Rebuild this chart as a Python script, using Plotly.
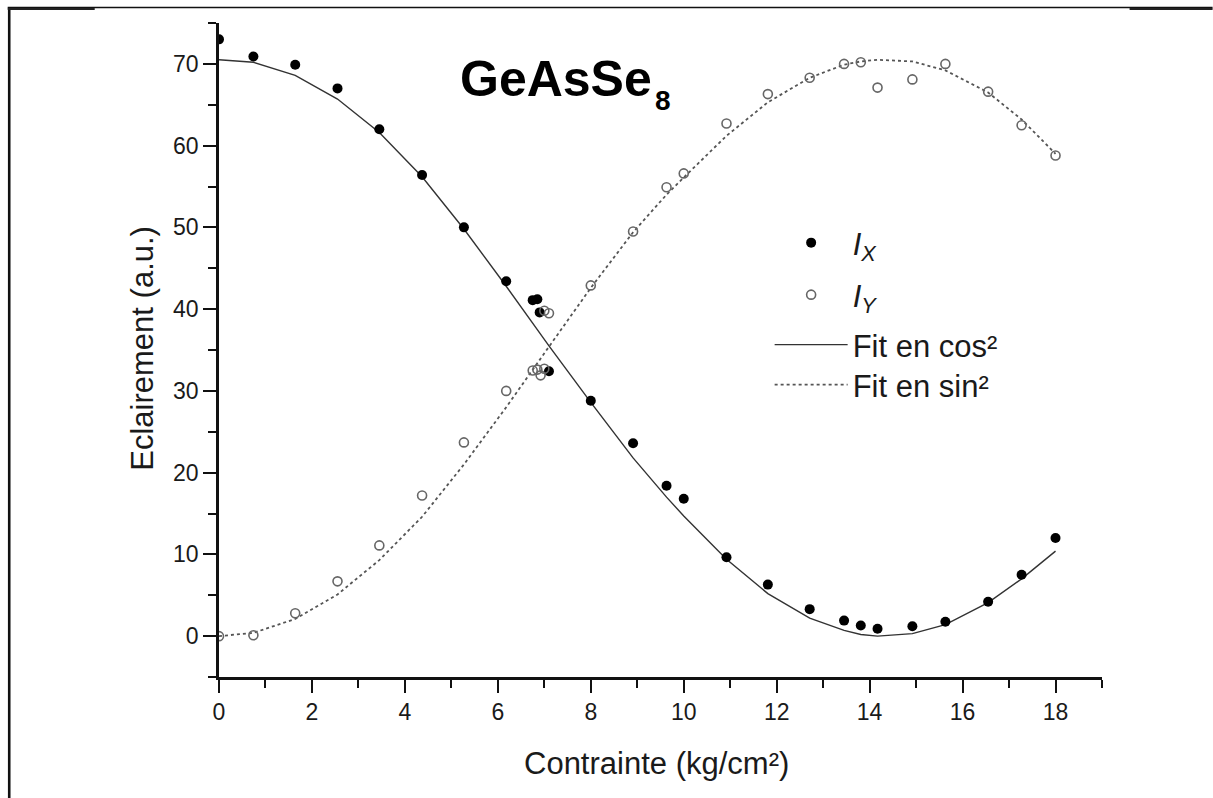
import plotly.graph_objects as go

# ---------------- data ----------------
ix_x = [0, 0.74, 1.64, 2.55, 3.45, 4.37, 5.27, 6.18, 6.75, 6.85, 6.9, 7.1, 8.0, 8.91, 9.63, 10.0,
        10.92, 11.81, 12.71, 13.45, 13.81, 14.17, 14.92, 15.63, 16.55, 17.27, 18.0]
ix_y = [73.0, 70.9, 69.9, 67.0, 62.0, 56.4, 50.0, 43.4, 41.1, 41.2, 39.6, 32.4, 28.8, 23.6, 18.4, 16.8,
        9.65, 6.3, 3.3, 1.9, 1.3, 0.9, 1.2, 1.75, 4.2, 7.5, 12.0]

iy_x = [0, 0.74, 1.64, 2.55, 3.45, 4.37, 5.27, 6.18, 6.75, 6.85, 6.92, 7.0, 7.0, 7.1, 8.0, 8.91, 9.63,
        10.0, 10.92, 11.81, 12.71, 13.45, 13.81, 14.17, 14.92, 15.63, 16.55, 17.27, 18.0]
iy_y = [0.0, 0.1, 2.8, 6.7, 11.1, 17.2, 23.7, 30.0, 32.5, 32.6, 31.9, 32.7, 39.8, 39.5, 42.9, 49.5, 54.9,
        56.6, 62.7, 66.3, 68.3, 70.0, 70.2, 67.1, 68.1, 70.0, 66.6, 62.5, 58.8]

fit_x = [0, 0.74, 1.64, 2.55, 3.45, 4.37, 5.27, 6.18, 7.1, 8.0, 8.91, 9.63, 10.0, 10.92, 11.81, 12.71,
         13.45, 13.81, 14.17, 14.92, 15.63, 16.55, 17.27, 18.0]
fit_cos = [70.5, 70.2, 68.6, 65.7, 61.6, 56.2, 49.8, 42.8, 35.5, 28.6, 21.8, 17.0, 14.7, 9.4, 5.2, 2.2,
           0.7, 0.2, 0.0, 0.3, 1.4, 4.1, 7.0, 10.4]
fit_sin = [0.0, 0.4, 2.1, 5.1, 9.3, 14.6, 21.0, 28.0, 35.4, 42.6, 49.4, 54.0, 56.1, 61.2, 65.3, 68.3,
           69.9, 70.3, 70.5, 70.3, 69.2, 66.5, 63.2, 59.0]

x_ticks = [0, 2, 4, 6, 8, 10, 12, 14, 16, 18]
y_ticks = [0, 10, 20, 30, 40, 50, 60, 70]

title_main = "GeAsSe"
title_sub = "8"
x_title = "Contrainte (kg/cm²)"
y_title = "Eclairement (a.u.)"
names = ["<i>I<sub>X</sub></i>", "<i>I<sub>Y</sub></i>", "Fit en cos²", "Fit en sin²"]

# ---------------- layout helpers (pixel -> paper) ----------------
W, H = 1213, 798
L, R, T, B = 219.3, 1102.4, 23.0, 677.0


def px(x):
    return (x - L) / (R - L)


def py(y):
    return (B - y) / (B - T)


FONT = "Liberation Sans, Arial, sans-serif"

fig = go.Figure()
fig.add_trace(go.Scatter(x=fit_x, y=fit_cos, mode="lines", name=names[2], legend="legend3",
                         line=dict(color="#333333", width=1.4)))
fig.add_trace(go.Scatter(x=fit_x, y=fit_sin, mode="lines", name=names[3], legend="legend4",
                         line=dict(color="#555555", width=1.8, dash="dot")))
fig.add_trace(go.Scatter(x=ix_x, y=ix_y, mode="markers", name=names[0], legend="legend",
                         marker=dict(symbol="circle", size=10, color="#000000")))
fig.add_trace(go.Scatter(x=iy_x, y=iy_y, mode="markers", name=names[1], legend="legend2",
                         marker=dict(symbol="circle-open", size=9, color="#666666",
                                     line=dict(width=1.6, color="#666666"))))

axis_common = dict(showgrid=False, zeroline=False, showline=True, linecolor="#111111", linewidth=2.5,
                   ticks="outside", tickwidth=2.2, tickcolor="#111111", ticklen=13,
                   tickfont=dict(family=FONT, size=23, color="#1a1a1a"))

fig.update_xaxes(range=[0, 19], tickmode="array", tickvals=x_ticks,
                 minor=dict(ticks="outside", dtick=1, tick0=0, ticklen=8, tickwidth=2.2, tickcolor="#111111"),
                 **axis_common)
fig.update_yaxes(range=[-5, 75], tickmode="array", tickvals=y_ticks,
                 minor=dict(ticks="outside", dtick=5, tick0=0, ticklen=8, tickwidth=2.2, tickcolor="#111111"),
                 **axis_common)

annotations = [
    dict(text="<b>" + title_main + "</b>", x=px(458), y=py(79), xref="paper", yref="paper",
         xanchor="left", yanchor="middle", showarrow=False, font=dict(family=FONT, size=50, color="#000")),
    dict(text="<b>" + title_sub + "</b>", x=px(653), y=py(100), xref="paper", yref="paper",
         xanchor="left", yanchor="middle", showarrow=False, font=dict(family=FONT, size=28, color="#000")),
    dict(text=x_title, x=px(657), y=py(763), xref="paper", yref="paper",
         xanchor="center", yanchor="middle", showarrow=False, font=dict(family=FONT, size=31, color="#1a1a1a")),
    dict(text=y_title, x=px(142), y=py(348), xref="paper", yref="paper", textangle=-90,
         xanchor="center", yanchor="middle", showarrow=False, font=dict(family=FONT, size=31, color="#1a1a1a")),
]

shapes = [
    # scanned page frame
    dict(type="line", xref="paper", yref="paper", x0=px(8), x1=px(1213), y0=py(7.5), y1=py(7.5),
         line=dict(color="#111111", width=1.6)),
    dict(type="line", xref="paper", yref="paper", x0=px(9.5), x1=px(9.5), y0=py(7), y1=py(798),
         line=dict(color="#111111", width=2.6)),
    dict(type="line", xref="paper", yref="paper", x0=px(8), x1=px(95), y0=py(9), y1=py(9),
         line=dict(color="#222222", width=2)),
    dict(type="line", xref="paper", yref="paper", x0=px(1130), x1=px(1213), y0=py(9), y1=py(9),
         line=dict(color="#222222", width=2)),
]


def legend_at(ycenter):
    return dict(x=px(770), y=py(ycenter), xanchor="left", yanchor="middle", bgcolor="rgba(0,0,0,0)",
                font=dict(family=FONT, size=31, color="#1a1a1a"), itemwidth=73, borderwidth=0)


fig.update_layout(
    width=W, height=H, autosize=False,
    margin=dict(l=L, r=W - R, t=T, b=H - B, pad=0),
    paper_bgcolor="white", plot_bgcolor="white",
    font=dict(family=FONT, color="#1a1a1a"),
    annotations=annotations, shapes=shapes,
    showlegend=True,
    legend=legend_at(243), legend2=legend_at(295), legend3=legend_at(345), legend4=legend_at(385),
)

fig.write_html("out.html", config={"displayModeBar": False},
               post_script="document.body.style.margin='0';document.body.style.overflow='hidden';")
